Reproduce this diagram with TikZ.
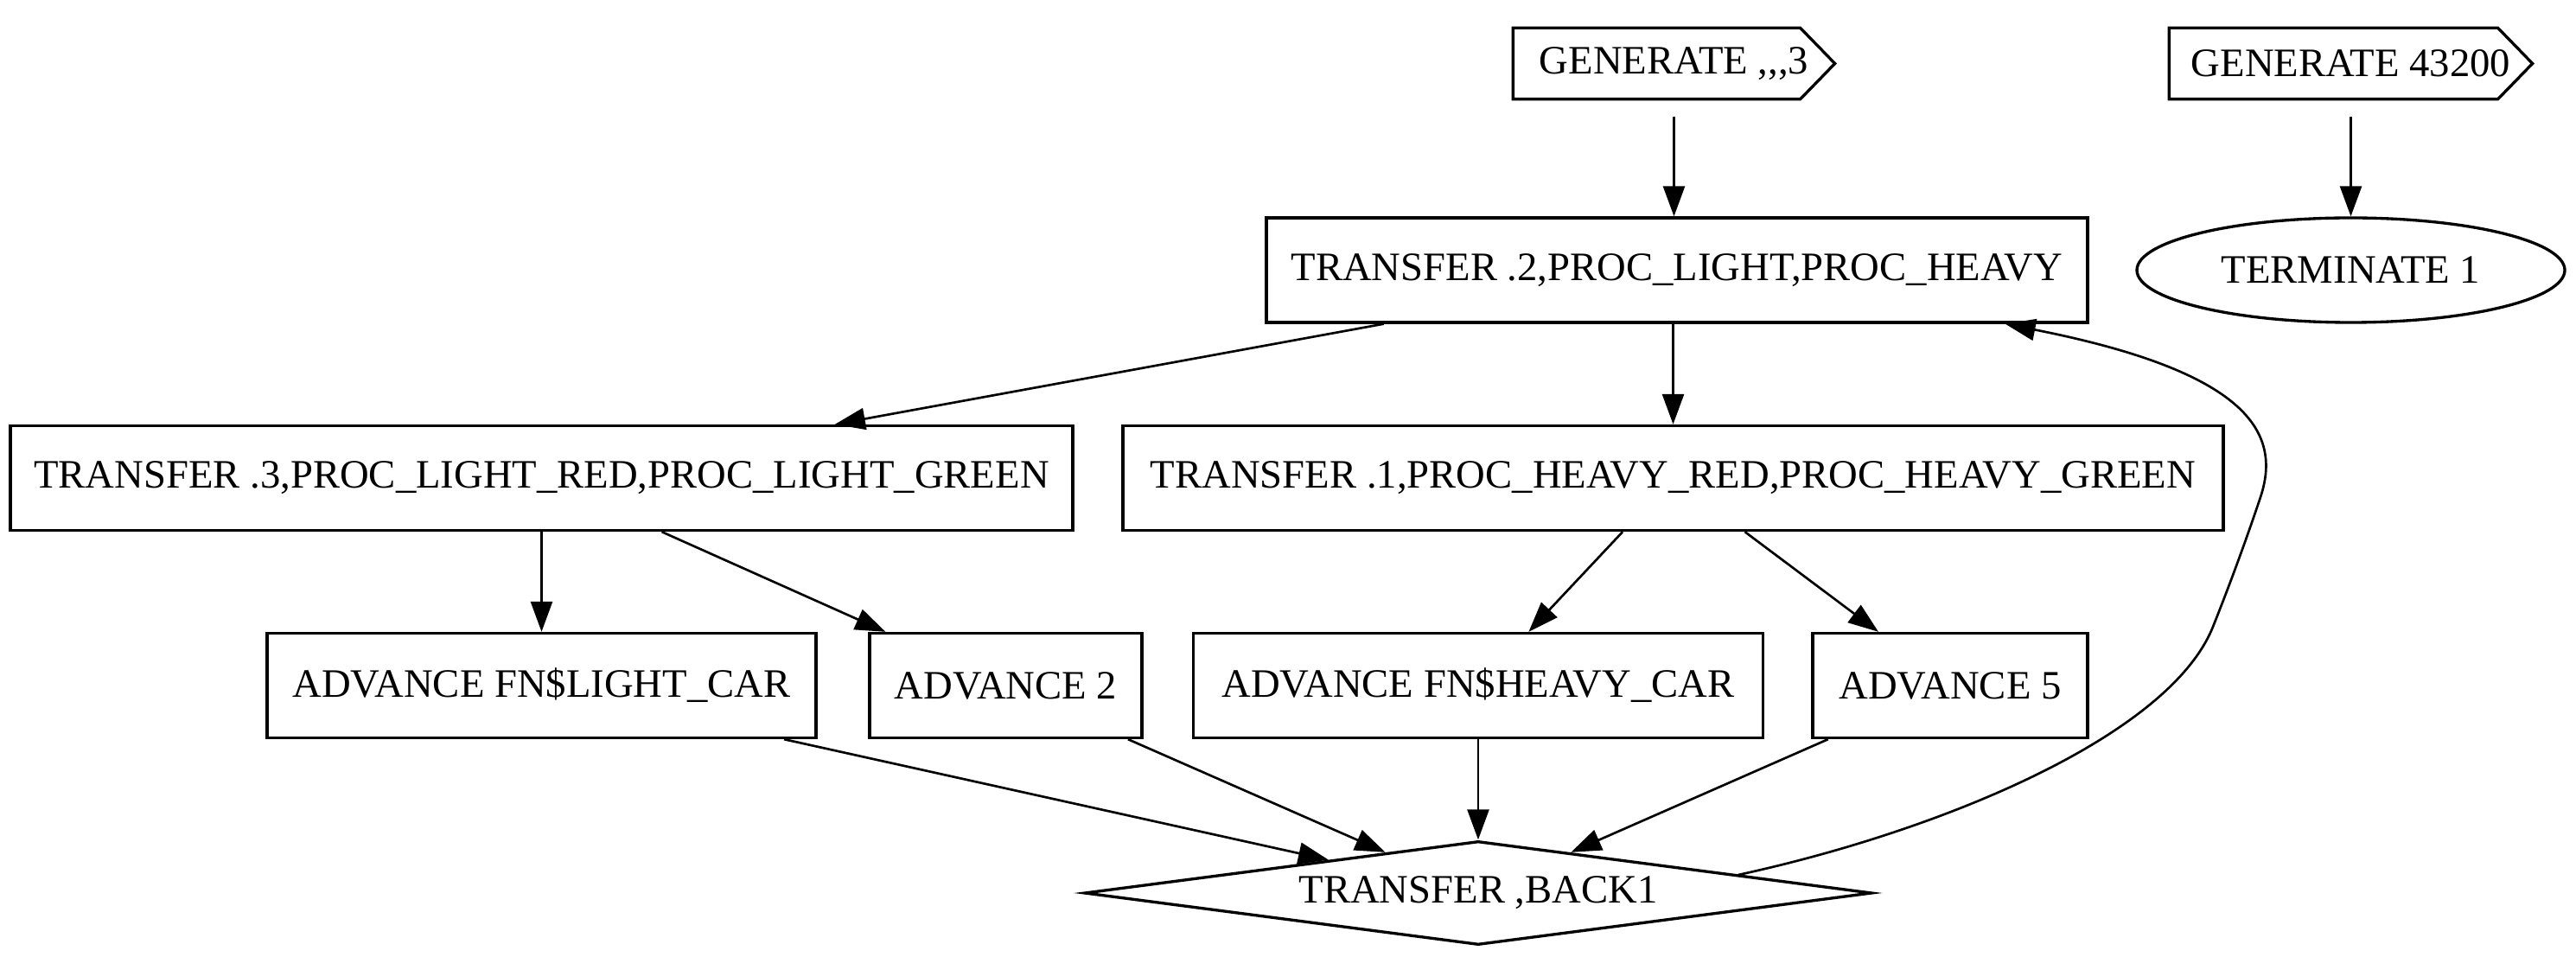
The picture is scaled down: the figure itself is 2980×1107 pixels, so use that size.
\documentclass[tikz,border=0pt]{standalone}
\usepackage{fontspec}
\setmainfont{Liberation Serif}
\usetikzlibrary{arrows.meta,shapes.geometric}
\begin{document}
\begin{tikzpicture}[x=0.3pt,y=-0.3pt,
  every node/.style={font=\fontsize{14}{16.8}\selectfont, inner sep=0pt},
  box/.style={draw, line width=1pt, rectangle, minimum height=36.3pt},
  genbox/.style={draw=none, rectangle, minimum height=36.3pt},
  ell/.style={draw, line width=1pt, ellipse, minimum height=36.3pt},
  dia/.style={draw, line width=1pt, diamond, aspect=7.59, minimum width=273.3pt, minimum height=36pt},
  shp/.style={line width=1pt},
  conn/.style={line width=0.8pt, -{Triangle[length=10.5pt,width=7.5pt]}}]
\useasboundingbox (0,0) rectangle (2980,1107);

% top generate nodes
\node[genbox, minimum width=111.3pt] (gen1) at (1936.5,73.5) {GENERATE ,\kern0pt,\kern0pt,\kern0pt3};
\draw[shp] ([yshift=-6pt]gen1.north west) -- ([xshift=-12pt,yshift=-6pt]gen1.north east)
  -- (gen1.east) -- ([xshift=-12pt,yshift=6pt]gen1.south east) -- ([yshift=6pt]gen1.south west) -- cycle;
\node[genbox, minimum width=125.7pt] (gen2) at (2719.5,73.5) {GENERATE 43200};
\draw[shp] ([yshift=-6pt]gen2.north west) -- ([xshift=-12pt,yshift=-6pt]gen2.north east)
  -- (gen2.east) -- ([xshift=-12pt,yshift=6pt]gen2.south east) -- ([yshift=6pt]gen2.south west) -- cycle;

% rows
\node[box, minimum width=285pt] (t2) at (1940,312.5) {TRANSFER .2,PROC\_LIGHT,PROC\_HEAVY};
\node[ell, minimum width=148.5pt] (term) at (2719.5,312.5) {TERMINATE 1};

\node[box, minimum width=368.7pt] (t3) at (626.5,553) {TRANSFER .3,PROC\_LIGHT\_RED,PROC\_LIGHT\_GREEN};
\node[box, minimum width=381.9pt] (t1) at (1935.5,553) {TRANSFER .1,PROC\_HEAVY\_RED,PROC\_HEAVY\_GREEN};

\node[box, minimum width=190.5pt] (al) at (626.5,793) {ADVANCE FN\$LIGHT\_CAR};
\node[box, minimum width=94.5pt] (a2) at (1163.5,793) {ADVANCE 2};
\node[box, minimum width=197.7pt] (ah) at (1710,793) {ADVANCE FN\$HEAVY\_CAR};
\node[box, minimum width=95.4pt] (a5) at (2256,793) {ADVANCE 5};

\node[dia] (d) at (1710,1033) {TRANSFER ,BACK1};

% connectors
\draw[conn] (gen1.south) -- (gen1.south |- t2.north);
\draw[conn] (gen2) -- (term);
\draw[conn] (t2) -- (t3);
\draw[conn] (t1.north |- t2.south) -- (t1.north);
\draw[conn] (t3) -- (al);
\draw[conn] (t3) -- (a2);
\draw[conn] (t1) -- (ah);
\draw[conn] (t1) -- (a5);
\draw[conn] (al) -- (d);
\draw[conn] (a2) -- (d);
\draw[conn] (ah) -- (d);
\draw[conn] (a5) -- (d);
\draw[conn] (d.4.6) .. controls (2250,960) and (2510,850) .. (2560,725)
  .. controls (2580,675) and (2600,620) .. (2615,575)
  .. controls (2640,500) and (2600,430) .. ([xshift=-29.1pt]t2.south east);
\end{tikzpicture}
\end{document}
